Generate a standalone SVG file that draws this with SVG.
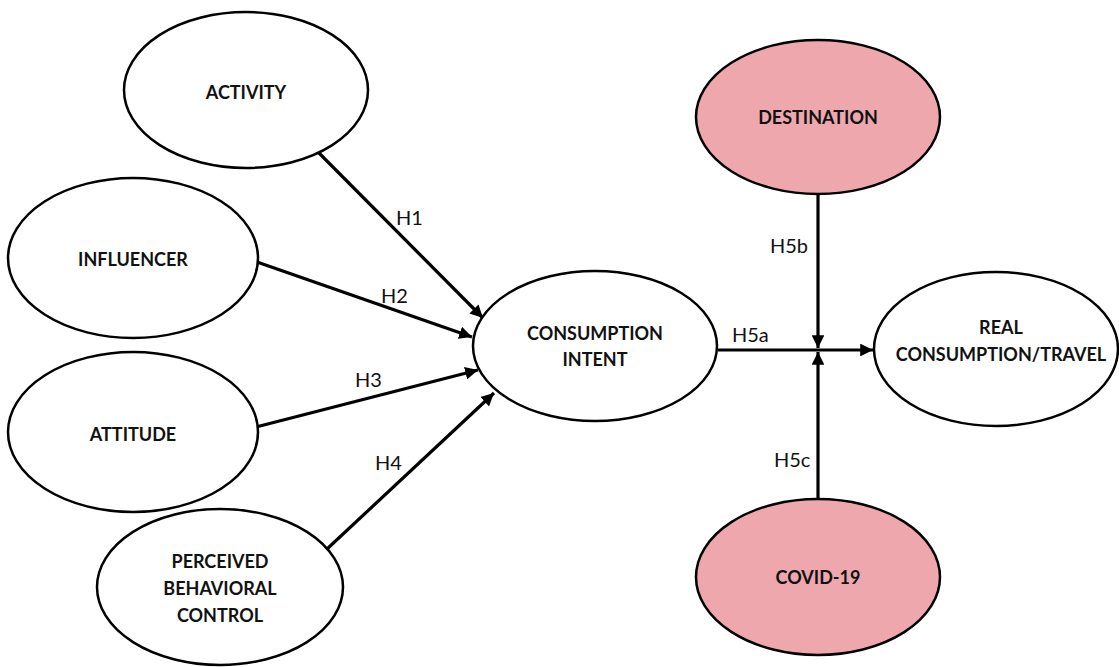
<svg xmlns="http://www.w3.org/2000/svg" width="1119" height="667" viewBox="0 0 1119 667">
  <defs>
    <marker id="arrow" viewBox="0 0 10 10" refX="10" refY="5" markerWidth="4" markerHeight="4" markerUnits="strokeWidth" orient="auto">
      <path d="M0,0 L10,5 L0,10 z" fill="#000"/>
    </marker>
    <style>
      .node ellipse { fill: #fff; stroke: #000; stroke-width: 2.5; }
      .node.mod ellipse { fill: #eea8ad; }
      .node text { font-family: Lato, "Liberation Sans", sans-serif; font-weight: bold; font-size: 18px; fill: #111; text-anchor: middle; }
      .edges line { stroke: #000; stroke-width: 3.2; marker-end: url(#arrow); }
      .edges text { font-family: Lato, "Liberation Sans", sans-serif; font-size: 20px; fill: #111; }
    </style>
  </defs>
  <rect width="1119" height="667" fill="#fff"/>

  <g class="edges" id="connectors">
    <line x1="318" y1="152" x2="483" y2="318"/>
    <line x1="257" y1="262" x2="472" y2="337"/>
    <line x1="256" y1="427" x2="478" y2="370"/>
    <line x1="327" y1="549" x2="494" y2="393"/>
    <line x1="718" y1="350" x2="873" y2="350"/>
    <line x1="818" y1="194" x2="818" y2="348"/>
    <line x1="818" y1="498" x2="818" y2="352"/>
    <text x="396" y="225">H1</text>
    <text x="381" y="303">H2</text>
    <text x="355" y="387">H3</text>
    <text x="375" y="470">H4</text>
    <text x="732" y="342">H5a</text>
    <text x="770" y="253">H5b</text>
    <text x="774" y="467">H5c</text>
  </g>

  <g class="node" id="activity">
    <ellipse cx="246" cy="90" rx="122" ry="78"/>
    <text x="246" y="99">ACTIVITY</text>
  </g>
  <g class="node" id="influencer">
    <ellipse cx="133" cy="258" rx="125" ry="80"/>
    <text x="133" y="266">INFLUENCER</text>
  </g>
  <g class="node" id="attitude">
    <ellipse cx="133" cy="432" rx="125" ry="80"/>
    <text x="133" y="441">ATTITUDE</text>
  </g>
  <g class="node" id="perceived-behavioral-control">
    <ellipse cx="220" cy="587" rx="123" ry="78"/>
    <text x="220" y="568">PERCEIVED</text>
    <text x="220" y="595">BEHAVIORAL</text>
    <text x="220" y="622">CONTROL</text>
  </g>
  <g class="node" id="consumption-intent">
    <ellipse cx="595" cy="346" rx="122" ry="75"/>
    <text x="595" y="340">CONSUMPTION</text>
    <text x="595" y="366">INTENT</text>
  </g>
  <g class="node mod" id="destination">
    <ellipse cx="818" cy="117" rx="122" ry="77"/>
    <text x="818" y="124">DESTINATION</text>
  </g>
  <g class="node mod" id="covid-19">
    <ellipse cx="818" cy="577" rx="122" ry="78"/>
    <text x="818" y="584">COVID-19</text>
  </g>
  <g class="node" id="real-consumption">
    <ellipse cx="996" cy="349" rx="122" ry="77"/>
    <text x="1001" y="334">REAL</text>
    <text x="1001" y="361">CONSUMPTION/TRAVEL</text>
  </g>
</svg>
